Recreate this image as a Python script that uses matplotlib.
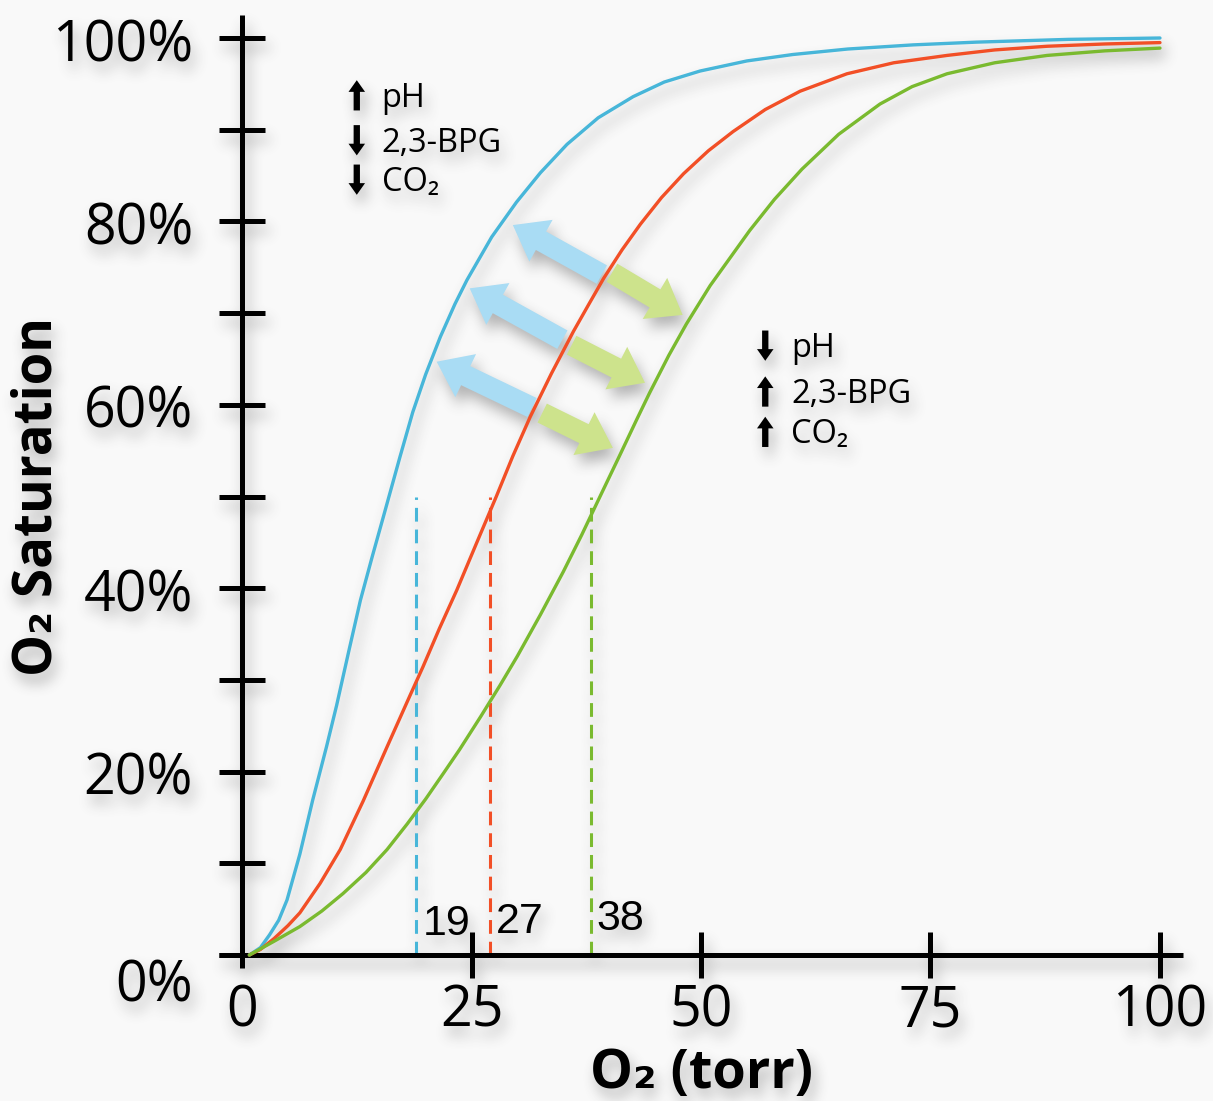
import numpy as np
import matplotlib
matplotlib.use("Agg")
import matplotlib.pyplot as plt
from matplotlib.patches import FancyArrowPatch

# ---- data -------------------------------------------------------------
# Hemoglobin O2 dissociation curves: partial pressure of O2 (torr) vs. saturation (%)
left_po2 = [0.8, 2.0, 3.0, 4.0, 4.9, 6.3, 7.7, 9.2, 10.3, 11.6, 12.9, 14.2, 15.4,
            17.2, 18.6, 20.0, 21.6, 23.2, 24.5, 27.2, 29.9, 32.5, 35.4, 38.8,
            42.6, 46.0, 49.9, 55.0, 60.0, 66.0, 73.1, 80.0, 90.0, 100.0]
left_sat = [0.0, 0.8, 2.2, 3.8, 6.0, 11.0, 16.9, 22.7, 27.2, 33.0, 38.7, 43.5, 47.8,
            54.3, 59.2, 63.3, 67.4, 71.0, 73.6, 78.3, 82.1, 85.3, 88.4, 91.3,
            93.6, 95.2, 96.4, 97.5, 98.2, 98.8, 99.25, 99.55, 99.85, 100.0]

mid_po2 = [0.8, 2.0, 3.5, 5.0, 6.3, 8.5, 10.7, 13.2, 15.8, 18.3, 19.7, 21.5, 23.4,
           25.5, 27.7, 29.5, 31.4, 33.7, 36.1, 37.8, 39.4, 41.4, 43.4, 45.7,
           48.1, 50.8, 53.5, 57.0, 60.8, 65.9, 71.0, 76.8, 82.0, 87.7, 94.0, 100.0]
mid_sat = [0.0, 0.6, 1.8, 3.2, 4.6, 7.8, 11.5, 16.8, 22.7, 28.3, 31.4, 35.6, 39.8,
           44.8, 50.0, 54.4, 58.7, 63.4, 68.0, 71.0, 73.8, 76.9, 79.7, 82.6,
           85.2, 87.7, 89.8, 92.2, 94.2, 96.1, 97.3, 98.1, 98.7, 99.1, 99.35, 99.5]

right_po2 = [0.8, 3.5, 6.3, 8.7, 11.0, 13.5, 15.8, 18.0, 20.0, 22.0, 23.7, 26.0,
             28.1, 30.0, 32.5, 35.0, 37.0, 39.0, 41.2, 43.0, 44.4, 46.5, 48.4,
             51.0, 55.3, 58.0, 61.0, 65.0, 69.5, 73.0, 76.8, 82.0, 87.7, 94.0, 100.0]
right_sat = [0.0, 1.5, 3.1, 4.8, 6.7, 9.0, 11.5, 14.3, 17.0, 19.9, 22.4, 26.0,
             29.4, 32.6, 37.1, 41.8, 45.8, 50.0, 54.6, 58.4, 61.3, 65.4, 68.8,
             73.0, 79.0, 82.4, 85.7, 89.5, 92.8, 94.7, 96.1, 97.3, 98.1, 98.6, 98.9]

# P50 values (torr) marked with dashed drop lines
p50_values = [19, 27, 38]

x_ticks = [0, 25, 50, 75, 100]
y_ticks = [0, 20, 40, 60, 80, 100]
y_minor = [10, 30, 50, 70, 90]

curve_colors = ["#47b6d9", "#f24f26", "#7aba2f"]
arrow_blue = "#a9dcf4"
arrow_green = "#cde38c"

FONT = ["Open Sans", "DejaVu Sans"]


# ---- soft drop shadow applied to everything drawn in the axes ----------
def _box_blur(a, r, axis):
    pad = [(0, 0)] * a.ndim
    pad[axis] = (r + 1, r)
    c = np.cumsum(np.pad(a, pad, mode="constant"), axis=axis)
    n = a.shape[axis]
    hi = np.take(c, np.arange(2 * r + 1, 2 * r + 1 + n), axis=axis)
    lo = np.take(c, np.arange(0, n), axis=axis)
    return (hi - lo) / (2 * r + 1)


class ShadowUnder:
    """Composite the rendered layer over a blurred, offset copy of its alpha."""

    def __init__(self, radius=6, dx=4, dy=9, alpha=0.38, color=(0.25, 0.25, 0.25)):
        self.radius, self.dx, self.dy = radius, dx, dy
        self.alpha, self.color = alpha, np.array(color)

    def __call__(self, im, dpi):
        pad = 3 * self.radius + max(abs(self.dx), abs(self.dy)) + 2
        src = np.pad(im, ((pad, pad), (pad, pad), (0, 0)), mode="constant")
        a = src[:, :, 3] * self.alpha
        for _ in range(3):
            a = _box_blur(a, self.radius, 0)
            a = _box_blur(a, self.radius, 1)
        a = np.roll(a, self.dy, axis=0)
        a = np.roll(a, self.dx, axis=1)
        sa = src[:, :, 3:4]
        sh = a[:, :, None]
        out_a = sa + sh * (1 - sa)
        rgb = src[:, :, :3] * sa + self.color * sh * (1 - sa)
        rgb = np.where(out_a > 1e-6, rgb / np.maximum(out_a, 1e-6), 0)
        out = np.concatenate([rgb, out_a], axis=2)
        return np.clip(out, 0, 1), -pad, -pad


# ---- figure -------------------------------------------------------------
W, H = 1213, 1101
fig = plt.figure(figsize=(W / 100, H / 100), dpi=100, facecolor="#f9f9f9")
ax = fig.add_axes([214.5 / W, 118.5 / H, 973 / W, 972 / H])
ax.set_xlim(-3, 103)
ax.set_ylim(-3, 103)
ax.patch.set_visible(False)

for s in ("top", "right"):
    ax.spines[s].set_visible(False)
ax.spines["left"].set_position(("data", 0))
ax.spines["bottom"].set_position(("data", 0))
ax.spines["left"].set_bounds(-1.4, 102.5)
ax.spines["bottom"].set_bounds(-2.5, 102.5)
for s in ("left", "bottom"):
    ax.spines[s].set_linewidth(3.6)
    ax.spines[s].set_capstyle("butt")

ax.set_xticks(x_ticks[1:])
ax.set_yticks(sorted(y_ticks + y_minor))
ax.tick_params(direction="inout", length=33, width=3.6, color="black",
               labelleft=False, labelbottom=False)


def put(x, y, s, dx=0, dy=0, **kw):
    ax.annotate(s, xy=(x, y), xytext=(dx, dy), textcoords="offset pixels",
                annotation_clip=False, **kw)


# tick labels
for v in y_ticks:
    put(0, v, f"{v}%", dx=-49, dy=-47 if v == 0 else -23, ha="right",
        va="baseline", fontsize=40, family=FONT)
for v in x_ticks:
    put(v, 0, f"{v}", dx=0, dy=-72, ha="center", va="baseline",
        fontsize=40, family=FONT)

# axis titles
put(50, 0, "O₂ (torr)", dy=-133, ha="center", va="baseline", fontsize=39,
    fontweight="bold", family=FONT)
put(0, 50, "O₂ Saturation", dx=-205, dy=0, ha="center", va="center",
    rotation=90, fontsize=38, fontweight="bold", family=FONT)

# curves
for xs, ys, c in zip([left_po2, mid_po2, right_po2],
                     [left_sat, mid_sat, right_sat], curve_colors):
    ax.plot(xs, ys, color=c, lw=2.4, solid_capstyle="round",
            solid_joinstyle="round", zorder=3)

# P50 drop lines and their labels
for p, c in zip(p50_values, curve_colors):
    ax.plot([p, p], [0, 50], color=c, lw=2.2, ls=(0, (4.5, 2.6)), zorder=2)
for p, dy in zip(p50_values, [20, 22, 25]):
    put(p, 0, str(p), dx=6, dy=dy, ha="left", va="baseline", fontsize=31,
        family=["Liberation Sans", "DejaVu Sans"])

# shift arrows: left-shift (blue) and right-shift (green)
shift_arrows = [
    ((39.2, 74.2), (29.5, 79.6), (40.3, 74.4), (48.0, 69.8)),
    ((34.9, 67.1), (24.8, 72.7), (35.9, 66.5), (43.9, 62.4)),
    ((31.6, 59.7), (21.2, 64.7), (32.7, 59.1), (40.4, 55.3)),
]
big = "simple,head_length=1.45,head_width=2.15,tail_width=0.95"
for b_tail, b_tip, g_tail, g_tip in shift_arrows:
    ax.add_patch(FancyArrowPatch(b_tail, b_tip, arrowstyle=big, mutation_scale=16,
                                 color=arrow_blue, lw=0, shrinkA=0, shrinkB=0, zorder=4))
    ax.add_patch(FancyArrowPatch(g_tail, g_tip, arrowstyle=big, mutation_scale=16,
                                 color=arrow_green, lw=0, shrinkA=0, shrinkB=0, zorder=4))

# condition keys
small = "simple,head_length=1.2,head_width=1.7,tail_width=0.65"
key_groups = [
    (12.5, 15.2, [("pH", +1, 92.5), ("2,3-BPG", -1, 87.6), ("CO₂", -1, 83.3)]),
    (57.0, 59.8, [("pH", -1, 65.2), ("2,3-BPG", +1, 60.2), ("CO₂", +1, 55.8)]),
]
for ax_x, tx, rows in key_groups:
    for label, direction, base in rows:
        lo, hi = base - 0.4, base + 2.9
        a, b = ((ax_x, lo), (ax_x, hi)) if direction > 0 else ((ax_x, hi), (ax_x, lo))
        ax.add_patch(FancyArrowPatch(a, b, arrowstyle=small, mutation_scale=7,
                                     color="black", lw=0, shrinkA=0, shrinkB=0))
        ax.text(tx, base, label, ha="left", va="baseline", fontsize=23.5,
                family=FONT, clip_on=False)

ax.set_agg_filter(ShadowUnder())

fig.savefig("out.png", dpi=100, facecolor=fig.get_facecolor())
